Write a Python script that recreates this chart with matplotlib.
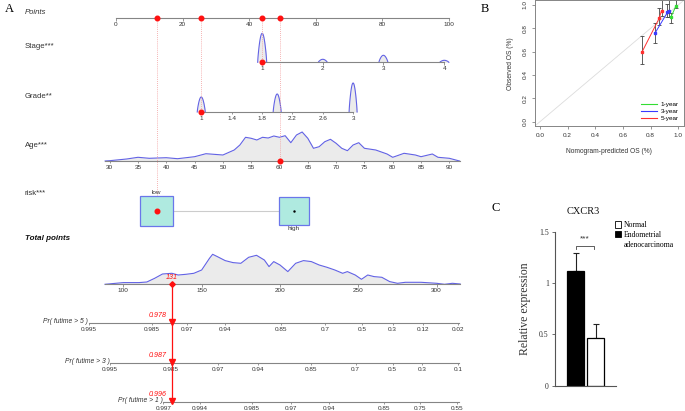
import numpy as np
import matplotlib
matplotlib.use("Agg")
import matplotlib.pyplot as plt
from matplotlib.patches import Rectangle, Patch
from matplotlib.lines import Line2D

plt.rcParams['font.family'] = ['Liberation Sans', 'DejaVu Sans']
SERIF = ['Liberation Serif', 'DejaVu Serif']

W, H = 685, 411

# ---------------- panel A : nomogram ----------------
points_ticks = [0, 20, 40, 60, 80, 100]

stage_levels = [1, 2, 3, 4]
stage_points = [43.9, 62.1, 80.3, 98.6]
stage_density = [29, 3, 7, 2]

grade_ticks = [1, 1.4, 1.8, 2.2, 2.6, 3]
grade_levels = [1, 2, 3]
grade_density = [15, 18, 29]
grade_ref = [1, 3]
grade_ref_points = [25.6, 71.2]

age_ticks = list(range(30, 95, 5))
age_ref = [30, 90]
age_ref_points = [-1.9, 100.1]
age_grid = [29.2, 30, 33, 35, 37, 40, 42, 45, 47, 50, 52, 53, 54, 55, 56, 57, 58,
            59, 60, 61, 62, 63, 64, 65, 66, 67, 68, 69, 70, 71, 72, 73, 74, 75,
            77, 79, 80, 82, 84, 85, 87, 88, 90, 91.8]
age_density = [0, 0.3, 2, 3.7, 2.7, 3.3, 2.3, 4.3, 7.3, 6, 11, 16, 23.7, 22.7, 21,
               23.7, 23, 25, 23.7, 25.3, 18.3, 26, 29, 22.7, 12.7, 14.3, 19.3, 21.7,
               17.7, 12.7, 10.3, 16, 18.3, 12.7, 11, 7, 3.7, 7.7, 6, 4.3, 7, 3.7,
               2.7, 0]

risk_levels = ['low', 'high']
risk_points = [12.2, 53.4]

total_ticks = [100, 150, 200, 250, 300]
total_ref = [100, 300]
total_ref_points = [2.2, 96.3]
total_grid = [88.3, 100, 110, 115, 120, 125, 131, 135, 140, 145, 150, 155, 157,
              160, 165, 170, 175, 180, 185, 190, 193, 196, 200, 205, 210, 215,
              220, 225, 230, 235, 240, 243, 248, 252, 256, 260, 265, 270, 275,
              280, 290, 300, 305, 310, 315]
total_density = [0, 1.7, 1.7, 2.3, 6, 10.3, 11, 9.3, 10, 11, 14.3, 26, 30, 27.7,
                 23.7, 21.7, 21, 27, 29, 24.3, 17.7, 22.7, 19.3, 12.7, 21, 23.7,
                 22.7, 19.3, 17, 14.3, 11, 12.7, 9.3, 5, 9.3, 7.7, 7, 2.7, 1, 2,
                 2, 1, 0, 1, 0.3]

pr5_probs = ['0.995', '0.985', '0.97', '0.94', '0.85', '0.7', '0.5', '0.3', '0.12', '0.02']
pr5_total = [77.8, 118.1, 140.5, 164.9, 200.7, 228.8, 252.2, 271.9, 291.4, 313.7]
pr3_probs = ['0.995', '0.985', '0.97', '0.94', '0.85', '0.7', '0.5', '0.3', '0.1']
pr3_total = [91.5, 130.3, 160.7, 185.9, 219.9, 248.3, 271.9, 290.5, 313.7]
pr1_probs = ['0.997', '0.994', '0.985', '0.97', '0.94', '0.85', '0.75', '0.55']
pr1_total = [125.5, 149, 182, 206.8, 231.2, 266.3, 289.5, 312.9]

patient_stage = 1
patient_grade = 1
patient_age = 60
patient_risk = 'low'
patient_surv = [0.978, 0.987, 0.996]

# ---------------- panel B : calibration ----------------
cal_labels = ['1-year', '3-year', '5-year']
cal_colors = ['#33dd33', '#3a3aff', '#ff3030']
cal_pred = [[0.946, 0.983], [0.831, 0.922, 0.932], [0.739, 0.862, 0.879]]
cal_obs = [[0.894, 0.99], [0.757, 0.937, 0.951], [0.60, 0.886, 0.952]]
cal_lo = [[0.843, 0.97], [0.672, 0.90, 0.90], [0.494, 0.83, 0.906]]
cal_hi = [[0.934, 1.04], [0.843, 1.01, 1.04], [0.734, 0.97, 1.04]]

# ---------------- panel C : CXCR3 expression ----------------
cxcr3_groups = ['Endometrial adenocarcinoma', 'Normal']
cxcr3_mean = [1.12, 0.46]
cxcr3_err = [0.17, 0.14]

fig = plt.figure(figsize=(W / 100, H / 100), dpi=100)

# nomogram drawn in pixel layout, values go through the scales below
ax = fig.add_axes([0, 0, 1, 1])
ax.set_xlim(0, W)
ax.set_ylim(H, 0)
ax.axis('off')

PX0, PX100 = 116, 449


def px(p):
    return PX0 + np.asarray(p, float) * (PX100 - PX0) / 100


def lin(v, ref, ref_pts):
    v = np.asarray(v, float)
    return ref_pts[0] + (v - ref[0]) * (ref_pts[1] - ref_pts[0]) / (ref[1] - ref[0])


ROW = dict(points=18.5, stage=62.3, grade=112, age=161, risk=210.5,
           total=284.3, pr5=322.7, pr3=362.7, pr1=401.7)
GRAY = '#858585'
BLUE = '#6262e4'
FILL = '#ebebeb'
RED = '#ff1010'
LRED = '#f29a9a'
TXT = '#333333'
TFS = 4.6


def scale(xs, labels, y, x0=None, x1=None):
    xs = np.asarray(xs, float)
    x0 = xs.min() if x0 is None else x0
    x1 = xs.max() if x1 is None else x1
    ax.plot([x0, x1], [y, y], color=GRAY, lw=0.8, zorder=2)
    ax.vlines(xs, y, y + 2.5, color=GRAY, lw=0.6, zorder=2)
    for x, l in zip(xs, labels):
        ax.text(x, y + 6.5, l, ha='center', va='center', fontsize=TFS, color=TXT)


def hump(xc, h, y, half=4.3):
    t = np.linspace(-1, 1, 41)
    xs = xc + t * half
    ys = y - h * np.cos(t * np.pi / 2) ** 0.8
    ax.fill_between(xs, y, ys, color=FILL, lw=0, zorder=1)
    ax.plot(xs, ys, color=BLUE, lw=0.8, zorder=1)


def fmt(v):
    return ('%g' % v)


row_names = [('Points', 'points', 'italic', 'normal'), ('Stage***', 'stage', 'normal', 'normal'),
             ('Grade**', 'grade', 'normal', 'normal'), ('Age***', 'age', 'normal', 'normal'),
             ('risk***', 'risk', 'normal', 'normal')]
name_dy = dict(points=-5.5, stage=-16, grade=-16, age=-16, risk=-17.5)
for name, key, style, weight in row_names:
    ax.text(25, ROW[key] + name_dy[key], name, fontsize=5.6, style=style, color=TXT, va='center')
ax.text(25, 238, 'Total points', fontsize=5.8, style='italic', weight='bold', va='center', color='#111111')

# points scale
scale(px(points_ticks), [fmt(v) for v in points_ticks], ROW['points'])

# stage
st_x = px(stage_points)
scale(st_x, [str(v) for v in stage_levels], ROW['stage'])
for x, h in zip(st_x, stage_density):
    hump(x, h, ROW['stage'], half=4.5)

# grade
gr_x = px(lin(grade_ticks, grade_ref, grade_ref_points))
scale(gr_x, [fmt(v) for v in grade_ticks], ROW['grade'])
for g, h in zip(grade_levels, grade_density):
    hump(px(lin(g, grade_ref, grade_ref_points)), h, ROW['grade'], half=4.0)

# age
ag_line = px(lin(age_grid, age_ref, age_ref_points))
ag_y = ROW['age'] - np.asarray(age_density)
ax.fill_between(ag_line, ROW['age'], ag_y, color=FILL, lw=0, zorder=1)
ax.plot(ag_line, ag_y, color=BLUE, lw=0.8, zorder=1)
scale(px(lin(age_ticks, age_ref, age_ref_points)), [str(v) for v in age_ticks], ROW['age'],
      x0=ag_line[0], x1=ag_line[-1])

# risk boxes
rk_x = px(risk_points)
box_size = [(33, 30), (30, 28)]
ax.plot([rk_x[0] + box_size[0][0] / 2, rk_x[1] - box_size[1][0] / 2], [ROW['risk']] * 2,
        color='#cccccc', lw=0.8, zorder=1)
for x, (bw, bh), lab, off in zip(rk_x, box_size, risk_levels, [-1, 1]):
    ax.add_patch(Rectangle((x - bw / 2, ROW['risk'] - bh / 2), bw, bh, fc='#afeae0',
                           ec='#6a76ea', lw=0.9, zorder=2))
    ax.text(x, ROW['risk'] + off * (bh / 2 + 3.5), lab, ha='center', va='center',
            fontsize=TFS, color=TXT)
ax.plot(rk_x[1], ROW['risk'], marker='.', color='k', ms=1.5, zorder=3)

# total points
tot_line = px(lin(total_grid, total_ref, total_ref_points))
tot_y = ROW['total'] - np.asarray(total_density)
ax.fill_between(tot_line, ROW['total'], tot_y, color=FILL, lw=0, zorder=1)
ax.plot(tot_line, tot_y, color=BLUE, lw=0.8, zorder=1)
scale(px(lin(total_ticks, total_ref, total_ref_points)), [str(v) for v in total_ticks],
      ROW['total'], x0=tot_line[0], x1=tot_line[-1])

# probability scales
end_x = tot_line[-1] - 1
for key, probs, tots, lab in [('pr5', pr5_probs, pr5_total, 'Pr( futime > 5 )'),
                              ('pr3', pr3_probs, pr3_total, 'Pr( futime > 3 )'),
                              ('pr1', pr1_probs, pr1_total, 'Pr( futime > 1 )')]:
    xs = px(lin(tots, total_ref, total_ref_points))
    scale(xs, probs, ROW[key], x1=max(end_x, xs.max()))
    ax.text(xs[0] - 0.5, ROW[key] - 1, lab, ha='right', va='center', fontsize=TFS + 0.3,
            style='italic', color=TXT)

# patient path
p_stage = stage_points[stage_levels.index(patient_stage)]
p_grade = float(lin(patient_grade, grade_ref, grade_ref_points))
p_age = float(lin(patient_age, age_ref, age_ref_points))
p_risk = risk_points[risk_levels.index(patient_risk)]
marks = [(p_stage, ROW['stage']), (p_grade, ROW['grade']), (p_age, ROW['age']), (p_risk, ROW['risk'])]
for p, y in marks:
    ax.vlines(px(p), ROW['points'], y, colors=LRED, linestyles=(0, (1, 1.5)), lw=0.6, zorder=1.5)
    ax.plot([px(p), px(p)], [ROW['points'], y], ls='none', marker='o', color=RED, ms=3.3, zorder=4)

total = p_stage + p_grade + p_age + p_risk
tx = px(lin(total, total_ref, total_ref_points))
ax.plot([tx, tx], [ROW['total'], ROW['pr1'] - 1], color=RED, lw=0.9, zorder=4)
ax.plot(tx, ROW['total'], marker='D', color=RED, ms=2.8, zorder=5)
ax.text(tx, ROW['total'] - 6.5, '%d' % round(total), color=RED, style='italic', ha='center',
        va='center', fontsize=TFS + 0.5)
for key, s in zip(['pr5', 'pr3', 'pr1'], patient_surv):
    ax.plot(tx, ROW[key] - 1, marker='v', color=RED, ms=4, zorder=5)
    ax.text(tx - 5, ROW[key] - 7.5, '%.3f' % s, color=RED, style='italic', ha='right',
            va='center', fontsize=TFS + 0.5)

fig.text(5 / W, 1 - 8.5 / H, 'A', family=SERIF, fontsize=9, va='center')

# ---------------- panel B ----------------
axb = fig.add_axes([534.5 / W, 1 - 126.3 / H, 149.3 / W, 126 / H])
axb.set_xlim(-0.04, 1.04)
axb.set_ylim(-0.04, 1.04)
axb.plot([-0.04, 1.04], [-0.04, 1.04], color='#dcdcdc', lw=0.6)
for lab, c, xp, yo, lo, hi in zip(cal_labels, cal_colors, cal_pred, cal_obs, cal_lo, cal_hi):
    yo = np.asarray(yo)
    axb.errorbar(xp, yo, yerr=[yo - np.asarray(lo), np.asarray(hi) - yo], fmt='none',
                 ecolor='#444444', elinewidth=0.6, capsize=1.3, capthick=0.6, zorder=2)
    axb.plot(xp, yo, color=c, lw=0.7, marker='s', ms=2, zorder=3)
axb.set_xticks(np.arange(0, 1.01, 0.2))
axb.set_yticks(np.arange(0, 1.01, 0.2))
axb.set_xticklabels(['%.1f' % v for v in np.arange(0, 1.01, 0.2)])
axb.set_yticklabels(['%.1f' % v for v in np.arange(0, 1.01, 0.2)], rotation=90, va='center')
axb.tick_params(length=2.5, width=0.6, labelsize=4.6, colors=GRAY, labelcolor=TXT, pad=2.5)
for s in axb.spines.values():
    s.set_color(GRAY)
    s.set_linewidth(0.7)
axb.set_xlabel('Nomogram-predicted OS (%)', fontsize=4.8, color=TXT, labelpad=7)
axb.set_ylabel('Observed OS (%)', fontsize=4.8, color=TXT, labelpad=6)
axb.legend([Line2D([], [], color=c, lw=0.8) for c in cal_colors], cal_labels, loc='lower right',
           fontsize=4.6, frameon=False, handlelength=2.6, labelspacing=0.25,
           borderaxespad=0.4, handletextpad=0.5)
fig.text(481 / W, 1 - 9 / H, 'B', family=SERIF, fontsize=9, va='center')

# ---------------- panel C ----------------
axc = fig.add_axes([555 / W, 1 - 385.7 / H, 60.7 / W, 154 / H])
pos = [0.34, 0.67]
axc.bar(pos, cxcr3_mean, width=0.28, color=['black', 'white'], edgecolor='black', lw=0.9,
        zorder=2)
axc.errorbar(pos, cxcr3_mean, yerr=[[0, 0], cxcr3_err], fmt='none', ecolor='#222222',
             elinewidth=0.8, capsize=2.2, capthick=0.8, zorder=1)
axc.set_xlim(0, 1)
axc.set_ylim(0, 1.5)
axc.spines['top'].set_visible(False)
axc.spines['right'].set_visible(False)
axc.spines['left'].set_color('#555555')
axc.spines['bottom'].set_color('#555555')
axc.set_xticks([])
axc.set_yticks([0, 0.5, 1, 1.5])
axc.set_yticklabels(['0', '0.5', '1', '1.5'], family=SERIF)
axc.tick_params(axis='y', length=2.5, width=0.6, labelsize=5.6, colors='#555555',
                labelcolor=TXT, pad=2)
axc.set_ylabel('Relative expression', family=SERIF, fontsize=8.5, color=TXT, labelpad=6)
axc.text(0.47, 1.13, 'CXCR3', transform=axc.transAxes, family=SERIF, fontsize=7.5,
         ha='center', va='center', color='#111111')
top = max(m + e for m, e in zip(cxcr3_mean, cxcr3_err)) + 0.04
axc.plot([pos[0], pos[0], pos[1] - 0.03, pos[1] - 0.03], [top, top + 0.03, top + 0.03, top],
         color='#444444', lw=0.6, clip_on=False)
axc.text((pos[0] + pos[1] - 0.03) / 2, top + 0.1, '***', ha='center', va='center',
         fontsize=6, color='#333333', clip_on=False)
leg = axc.legend([Patch(fc='white', ec='black', lw=0.6), Patch(fc='black', ec='black', lw=0.6),
                  Patch(fc='none', ec='none')],
                 [cxcr3_groups[1], 'Endometrial', 'adenocarcinoma'],
                 loc='upper left', bbox_to_anchor=(615 / W, 1 - 221 / H),
                 bbox_transform=fig.transFigure, frameon=False, borderpad=0, borderaxespad=0,
                 handlelength=0.75, handleheight=0.9, handletextpad=0.35, labelspacing=0.25,
                 prop=dict(family=SERIF, size=5.5))
fig.text(492 / W, 1 - 208 / H, 'C', family=SERIF, fontsize=9, va='center')

fig.savefig('out.png', dpi=100)
